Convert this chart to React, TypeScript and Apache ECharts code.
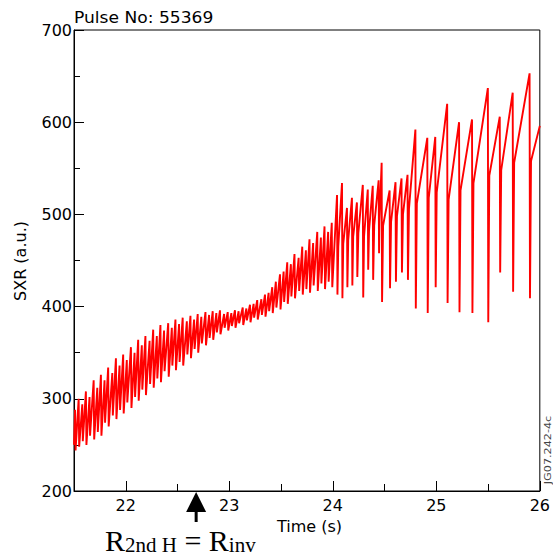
import React, { useEffect, useRef } from 'react';
import * as echarts from 'echarts';

// ---- data ----
const xMajorTicks = [22, 23, 24, 25, 26];
const xMinorTicks = [22.5, 23.5, 24.5, 25.5];

const startT = 21.5;
const startV = 250;

// dense small sawteeth (crash time, value just before crash, value just after crash)
const earlyT = [
  21.51, 21.545, 21.58, 21.615, 21.65, 21.69, 21.725, 21.76, 21.795, 21.83,
  21.87, 21.905, 21.94, 21.975, 22.01, 22.05, 22.085, 22.12, 22.155, 22.19,
  22.23, 22.265, 22.3, 22.335, 22.37, 22.41, 22.445, 22.48, 22.515, 22.55,
  22.59, 22.625, 22.66, 22.695, 22.73, 22.77, 22.805, 22.84, 22.875, 22.91,
  22.95, 22.985, 23.02, 23.055, 23.09, 23.13, 23.165, 23.2, 23.235, 23.27,
  23.31, 23.345, 23.38, 23.415, 23.45, 23.49, 23.525, 23.56, 23.595, 23.63,
  23.67, 23.705, 23.74, 23.775, 23.81, 23.85, 23.885, 23.92, 23.955, 23.99,
];
const earlyPeak = [
  288, 300, 294, 308, 302, 320, 312, 326, 320, 334,
  328, 344, 336, 348, 342, 356, 350, 364, 358, 368,
  363, 375, 368, 380, 374, 382, 377, 386, 381, 388,
  384, 390, 386, 392, 389, 394, 391, 395, 393, 396,
  392, 394, 393, 396, 395, 399, 398, 402, 403, 407,
  408, 413, 415, 421, 427, 435, 438, 448, 446, 457,
  453, 465, 461, 473, 469, 481, 475, 487, 481, 491,
];
const earlyTrough = [
  244, 248, 254, 250, 260, 256, 264, 260, 274, 270,
  282, 278, 288, 284, 296, 290, 302, 298, 310, 304,
  316, 312, 322, 318, 330, 324, 336, 331, 340, 336,
  348, 344, 354, 350, 360, 358, 366, 364, 372, 370,
  377, 374, 379, 377, 382, 380, 385, 383, 388, 386,
  391, 389, 395, 393, 399, 397, 405, 403, 411, 409,
  417, 413, 419, 415, 423, 417, 425, 419, 427, 421,
];

// larger sawteeth (crash time, peak, trough, recovered level shortly after)
const lateT = [
  24.041, 24.089, 24.137, 24.185, 24.233, 24.29, 24.338, 24.386, 24.443, 24.472,
  24.549, 24.606, 24.664, 24.722, 24.798, 24.913, 24.99, 25.105, 25.22, 25.345,
  25.498, 25.613, 25.738, 25.901,
];
const latePeak = [
  521, 534, 507, 518, 513, 532, 527, 531, 537, 556,
  526, 535, 539, 543, 592, 583, 584, 620, 600, 603,
  637, 606, 632, 653,
];
const lateTrough = [
  413, 409, 421, 423, 432, 410, 440, 429, 458, 405,
  420, 427, 437, 429, 398, 393, 421, 404, 394, 393,
  383, 437, 416, 409,
];
const lateKnee = [
  465, 468, 472, 476, 480, 476, 482, 488, 492, 488,
  492, 498, 500, 506, 512, 518, 524, 516, 526, 534,
  542, 548, 556, 558,
];
const endT = 26.0;
const endV = 596;

const annotationT = 22.68;

function buildPoints(): number[][] {
  const pts: number[][] = [[startT, startV]];
  for (let i = 0; i < earlyT.length; i++) {
    pts.push([earlyT[i], earlyPeak[i]]);
    pts.push([earlyT[i] + 0.005, earlyTrough[i]]);
  }
  for (let j = 0; j < lateT.length; j++) {
    const next = j + 1 < lateT.length ? lateT[j + 1] : endT;
    const dt = Math.min(0.014, 0.25 * (next - lateT[j]));
    pts.push([lateT[j], latePeak[j]]);
    pts.push([lateT[j] + 0.004, lateTrough[j]]);
    pts.push([lateT[j] + dt, lateKnee[j]]);
  }
  pts.push([endT, endV]);
  return pts;
}

export default function App() {
  const ref = useRef<HTMLDivElement>(null);
  useEffect(() => {
    document.body.style.margin = '0';
    const chart = echarts.init(ref.current!, null, { renderer: 'svg' });
    const font = 'DejaVu Sans';
    chart.setOption({
      animation: false,
      backgroundColor: '#ffffff',
      grid: {
        left: 74,
        right: 10,
        top: 30,
        bottom: 63,
        show: true,
        borderColor: '#000',
        borderWidth: 1,
        backgroundColor: 'transparent',
      },
      xAxis: [
        {
          type: 'value',
          min: 21.5,
          max: 26,
          interval: 0.5,
          axisLine: { show: true, lineStyle: { color: '#000', width: 1 } },
          axisTick: {
            show: true,
            inside: true,
            length: 10,
            customValues: xMajorTicks,
            lineStyle: { color: '#000' },
          },
          axisLabel: {
            show: true,
            customValues: xMajorTicks,
            formatter: (v: number) => (Number.isInteger(v) ? String(v) : ''),
            color: '#000',
            fontFamily: font,
            fontSize: 16,
            margin: 6,
          },
          splitLine: { show: false },
        },
        {
          type: 'value',
          min: 21.5,
          max: 26,
          interval: 0.5,
          position: 'bottom',
          axisLine: { show: false },
          axisTick: {
            show: true,
            inside: true,
            length: 7,
            customValues: xMinorTicks,
            lineStyle: { color: '#000' },
          },
          axisLabel: { show: false },
          splitLine: { show: false },
        },
      ],
      yAxis: {
        type: 'value',
        min: 200,
        max: 700,
        interval: 100,
        axisLine: { show: true, lineStyle: { color: '#000', width: 1 } },
        axisTick: { show: true, inside: true, length: 10, lineStyle: { color: '#000' } },
        minorTick: { show: true, splitNumber: 2, length: 6, lineStyle: { color: '#000' } },
        axisLabel: { color: '#000', fontFamily: font, fontSize: 16, margin: 2 },
        splitLine: { show: false },
        minorSplitLine: { show: false },
      },
      series: [
        {
          type: 'line',
          data: buildPoints(),
          showSymbol: false,
          symbol: 'none',
          lineStyle: { color: '#ff0000', width: 1.9 },
          clip: true,
        },
      ],
    });

    const p = chart.convertToPixel({ gridIndex: 0 }, [annotationT, 200]) as number[];
    const ax = p[0];
    const ay = p[1];

    chart.setOption({
      graphic: [
        {
          type: 'text',
          left: 74,
          top: 10,
          style: { text: 'Pulse No: 55369', fill: '#000', font: `16px "${font}"` },
          scaleX: 1.07,
        },
        {
          type: 'text',
          x: 20,
          y: 261,
          rotation: Math.PI / 2,
          style: {
            text: 'SXR (a.u.)',
            fill: '#000',
            font: `16px "${font}"`,
            align: 'center',
            verticalAlign: 'middle',
          },
        },
        {
          type: 'text',
          x: 277,
          y: 526,
          style: {
            text: 'Time (s)',
            fill: '#000',
            font: `16px "${font}"`,
            align: 'left',
            verticalAlign: 'middle',
          },
        },
        {
          type: 'text',
          x: 548,
          y: 450,
          rotation: Math.PI / 2,
          scaleX: 1.4,
          style: {
            text: 'JG07.242-4c',
            fill: '#444',
            font: `8px "${font}"`,
            align: 'center',
            verticalAlign: 'middle',
          },
        },
        {
          type: 'polygon',
          shape: {
            points: [
              [ax, ay + 1],
              [ax - 10, ay + 21],
              [ax + 10, ay + 21],
            ],
          },
          style: { fill: '#000' },
        },
        {
          type: 'rect',
          shape: { x: ax - 1.5, y: ay + 20, width: 3, height: 11 },
          style: { fill: '#000' },
        },
        {
          type: 'text',
          x: 105,
          y: 555,
          style: {
            text: '{r|R}{s|2nd H}{r| = R}{s|inv}',
            fill: '#000',
            align: 'left',
            verticalAlign: 'bottom',
            rich: {
              r: {
                fontFamily: 'Liberation Serif',
                fontSize: 30,
                lineHeight: 34,
                verticalAlign: 'bottom',
                fill: '#000',
              },
              s: {
                fontFamily: 'Liberation Serif',
                fontSize: 21,
                lineHeight: 30,
                verticalAlign: 'bottom',
                fill: '#000',
              },
            },
          },
        },
      ],
    });

    return () => chart.dispose();
  }, []);
  return <div ref={ref} style={{ width: 553, height: 554 }} />;
}
